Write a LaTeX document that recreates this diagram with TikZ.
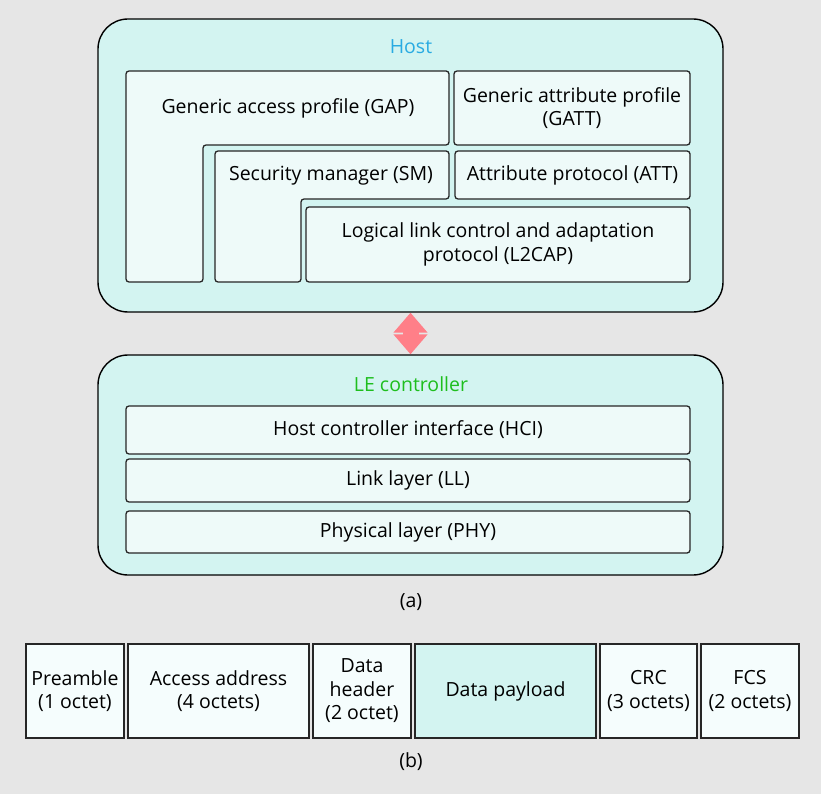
\documentclass[tikz,border=0pt]{standalone}
\usepackage{fontspec}
\setmainfont{Open Sans}
\usetikzlibrary{arrows.meta}
\definecolor{pagebg}{HTML}{E6E6E6}
\definecolor{hostfill}{HTML}{D3F4F1}
\definecolor{boxfill}{HTML}{EEFAF9}
\definecolor{fieldfill}{HTML}{F5FDFD}
\definecolor{hostblue}{HTML}{29ABE2}
\definecolor{legreen}{HTML}{1EBE1E}
\definecolor{linkpink}{HTML}{FF7F88}

\begin{document}
\begin{tikzpicture}[x=1pt, y=-1pt,
	txt/.style={font=\fontsize{19.5}{23.5}\selectfont, align=center, inner sep=0pt},
	outerbox/.style={draw, rounded corners=30pt, fill=hostfill, line width=1.4pt,
		inner sep=0pt},
	layerbox/.style={txt, draw=black!85, rounded corners=3pt, fill=boxfill,
		line width=1.3pt},
	fieldbox/.style={txt, draw=black!85, fill=fieldfill, line width=1.3pt,
		minimum height=94pt},
	linkarrow/.style={draw=linkpink, line width=16pt,
		{Triangle[length=20pt,width=33pt]}-{Triangle[length=20pt,width=33pt]}}]
	\useasboundingbox[fill=pagebg] (0,0) rectangle (821,794);

	% (a) host
	\node[outerbox, minimum width=625pt, minimum height=293pt] (host) at (410.5,165.5) {};
	\node[txt, text=hostblue] (hostlbl) at (411,47) {Host};
	\draw[layerbox] (126,71) -- (449,71) -- (449,145) -- (203,145) -- (203,282)
		-- (126,282) -- cycle;
	\node[txt] (gap) at (288,108) {Generic access profile (GAP)};
	\node[layerbox, minimum width=236pt, minimum height=74pt] (gatt) at (572,108)
		{Generic attribute profile\\(GATT)};
	\draw[layerbox] (215,151) -- (449,151) -- (449,199) -- (301,199) -- (301,282)
		-- (215,282) -- cycle;
	\node[txt] (sm) at (331,176) {Security manager (SM)};
	\node[layerbox, minimum width=235pt, minimum height=48pt] (att) at (572.5,175)
		{Attribute protocol (ATT)};
	\node[layerbox, minimum width=384pt, minimum height=75pt] (l2cap) at (498,244.5)
		{Logical link control and adaptation\\protocol (L2CAP)};

	% (a) controller
	\node[outerbox, minimum width=625pt, minimum height=220pt] (le) at (410.5,465) {};
	\node[txt, text=legreen] (lelbl) at (411,384) {LE controller};
	\node[layerbox, minimum width=564pt, minimum height=48pt] (hci) at (408,430)
		{Host controller interface (HCI)};
	\node[layerbox, minimum width=564pt, minimum height=43pt] (ll) at (408,480.5)
		{Link layer (LL)};
	\node[layerbox, minimum width=564pt, minimum height=42pt] (phy) at (408,532)
		{Physical layer (PHY)};

	\draw[linkarrow] (host.south) -- (le.north);
	\node[txt] (capa) at (411,602) {(a)};

	% (b) packet
	\node[fieldbox, minimum width=98pt] (pre) at (75,691) {Preamble\\(1 octet)};
	\node[fieldbox, minimum width=181pt] (acc) at (218.5,691) {Access address\\(4 octets)};
	\node[fieldbox, minimum width=98pt] (hdr) at (362,691) {Data\\header\\(2 octet)};
	\node[fieldbox, minimum width=181pt, fill=hostfill] (pay) at (505.5,691) {Data payload};
	\node[fieldbox, minimum width=97pt] (crc) at (648.5,691) {CRC\\(3 octets)};
	\node[fieldbox, minimum width=98pt] (fcs) at (750,691) {FCS\\(2 octets)};
	\node[txt] (capb) at (411,762) {(b)};
\end{tikzpicture}
\end{document}
